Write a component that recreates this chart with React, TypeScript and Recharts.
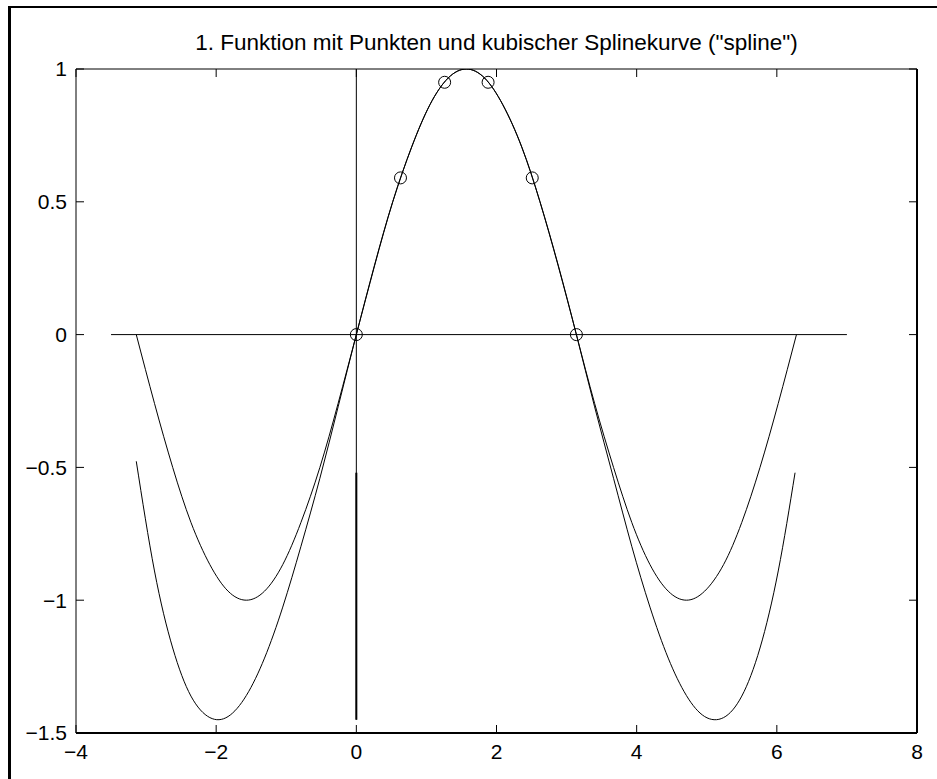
import React from 'react';
import { ComposedChart, Line, XAxis, YAxis } from 'recharts';

// sin(x) on [-pi, 2pi]
const sinX = [
  -3.14, -2.88, -2.62, -2.36, -2.09, -1.83, -1.57, -1.31, -1.05, -0.79, -0.52, -0.26,
  0, 0.26, 0.52, 0.79, 1.05, 1.31, 1.57, 1.83, 2.09, 2.36, 2.62, 2.88,
  3.14, 3.4, 3.67, 3.93, 4.19, 4.45, 4.71, 4.97, 5.24, 5.5, 5.76, 6.02, 6.28,
];
const sinY = [
  0, -0.259, -0.5, -0.707, -0.866, -0.966, -1, -0.966, -0.866, -0.707, -0.5, -0.259,
  0, 0.259, 0.5, 0.707, 0.866, 0.966, 1, 0.966, 0.866, 0.707, 0.5, 0.259,
  0, -0.259, -0.5, -0.707, -0.866, -0.966, -1, -0.966, -0.866, -0.707, -0.5, -0.259, 0,
];

// cubic spline through the six points, evaluated beyond [0, pi]
const splineX = [
  -3.14, -2.88, -2.62, -2.36, -2.09, -1.83, -1.57, -1.31, -1.05, -0.79, -0.52, -0.26,
  0, 0.26, 0.52, 0.79, 1.05, 1.31, 1.57, 1.83, 2.09, 2.36, 2.62, 2.88,
  3.14, 3.4, 3.67, 3.93, 4.19, 4.45, 4.71, 4.97, 5.24, 5.5, 5.76, 6.02, 6.26,
];
const splineY = [
  -0.477, -0.89, -1.18, -1.361, -1.442, -1.438, -1.359, -1.218, -1.026, -0.797, -0.541, -0.272,
  0, 0.262, 0.501, 0.706, 0.865, 0.966, 1, 0.966, 0.865, 0.706, 0.501, 0.262,
  0, -0.272, -0.541, -0.797, -1.026, -1.218, -1.359, -1.438, -1.442, -1.361, -1.18, -0.89, -0.52,
];

const pointX = [0, 0.63, 1.26, 1.88, 2.51, 3.14];
const pointY = [0, 0.59, 0.95, 0.95, 0.59, 0];

const zeroLineX = [-3.5, 7];
const zeroLineY = [0, 0];
const stemX = [0, 0];
const stemY = [1, -1.45];
const stemLowY = [-0.52, -1.45];

const xDomain = [-4, 8];
const yDomain = [-1.5, 1];
const xTicks = [-4, -2, 0, 2, 4, 6, 8];
const yTicks = [-1.5, -1, -0.5, 0, 0.5, 1];

const title = '1. Funktion mit Punkten und kubischer Splinekurve ("spline")';

const zip = (xs: number[], ys: number[]) => xs.map((x, i) => ({ x, y: ys[i] }));

const font = '"Liberation Sans", Arial, Helvetica, sans-serif';
const tickStyle = { fill: '#000', fontSize: 21, fontFamily: font };
const fmt = (v: number) => String(v).replace('-', '\u2212');
const noLabel = () => <g />;
const black = { stroke: '#000' };

const App: React.FC = () => {
  return (
    <div style={{ position: 'absolute', left: 0, top: 0, width: 937, height: 779, background: '#fff' }}>
      <div
        style={{
          position: 'absolute',
          left: 8,
          top: 6,
          right: 0,
          bottom: 0,
          borderLeft: '3px solid #000',
          borderTop: '2px solid #000',
        }}
      />
      <div
        style={{
          position: 'absolute',
          left: 76,
          width: 841,
          top: 32,
          textAlign: 'center',
          fontFamily: font,
          fontSize: 22.5,
          lineHeight: '22px',
          color: '#000',
          whiteSpace: 'nowrap',
        }}
      >
        {title}
      </div>
      <div style={{ position: 'absolute', left: 0, top: 0 }}>
        <ComposedChart
          width={937}
          height={779}
          margin={{ top: 69, right: 20, bottom: 0, left: 0 }}
        >
          {/* labelled axes (bottom / left) */}
          <XAxis
            dataKey="x"
            type="number"
            domain={xDomain}
            ticks={xTicks}
            allowDataOverflow
            height={46}
            tickSize={0}
            tickMargin={11}
            tickFormatter={fmt}
            tick={tickStyle}
            axisLine={{ stroke: '#000', strokeWidth: 2 }}
            tickLine={false}
          />
          <YAxis
            type="number"
            domain={yDomain}
            ticks={yTicks}
            allowDataOverflow
            width={76}
            tickSize={0}
            tickMargin={9}
            tickFormatter={fmt}
            tick={tickStyle}
            axisLine={black}
            tickLine={false}
          />
          {/* inward tick marks on all four sides */}
          <XAxis
            xAxisId="bottomTicks"
            dataKey="x"
            type="number"
            domain={xDomain}
            ticks={xTicks}
            allowDataOverflow
            mirror
            height={1}
            tickSize={8}
            tick={noLabel}
            axisLine={false}
            tickLine={black}
          />
          <YAxis
            yAxisId="leftTicks"
            type="number"
            domain={yDomain}
            ticks={yTicks}
            allowDataOverflow
            mirror
            width={1}
            tickSize={8}
            tick={noLabel}
            axisLine={false}
            tickLine={black}
          />
          <XAxis
            xAxisId="top"
            orientation="top"
            dataKey="x"
            type="number"
            domain={xDomain}
            ticks={xTicks}
            allowDataOverflow
            mirror
            height={1}
            tickSize={8}
            tick={noLabel}
            axisLine={black}
            tickLine={black}
          />
          <YAxis
            yAxisId="right"
            orientation="right"
            type="number"
            domain={yDomain}
            ticks={yTicks}
            allowDataOverflow
            mirror
            width={1}
            tickSize={8}
            tick={noLabel}
            axisLine={{ stroke: '#000', strokeWidth: 2 }}
            tickLine={black}
          />
          <Line data={zip(zeroLineX, zeroLineY)} xAxisId="top" yAxisId="right" dataKey="y" type="linear" stroke="#000" strokeWidth={1} dot={false} isAnimationActive={false} />
          <Line data={zip(stemX, stemY)} xAxisId="bottomTicks" yAxisId="leftTicks" dataKey="y" type="linear" stroke="#000" strokeWidth={1} dot={false} isAnimationActive={false} />
          <Line data={zip(stemX, stemLowY)} dataKey="y" type="linear" stroke="#000" strokeWidth={2} dot={false} isAnimationActive={false} />
          <Line data={zip(sinX, sinY)} dataKey="y" type="natural" stroke="#000" strokeWidth={1} dot={false} isAnimationActive={false} />
          <Line data={zip(splineX, splineY)} dataKey="y" type="natural" stroke="#000" strokeWidth={1} dot={false} isAnimationActive={false} />
          <Line
            data={zip(pointX, pointY)}
            dataKey="y"
            stroke="none"
            dot={{ r: 6, fill: 'none', stroke: '#000', strokeWidth: 1 }}
            isAnimationActive={false}
          />
        </ComposedChart>
      </div>
    </div>
  );
};

export default App;
